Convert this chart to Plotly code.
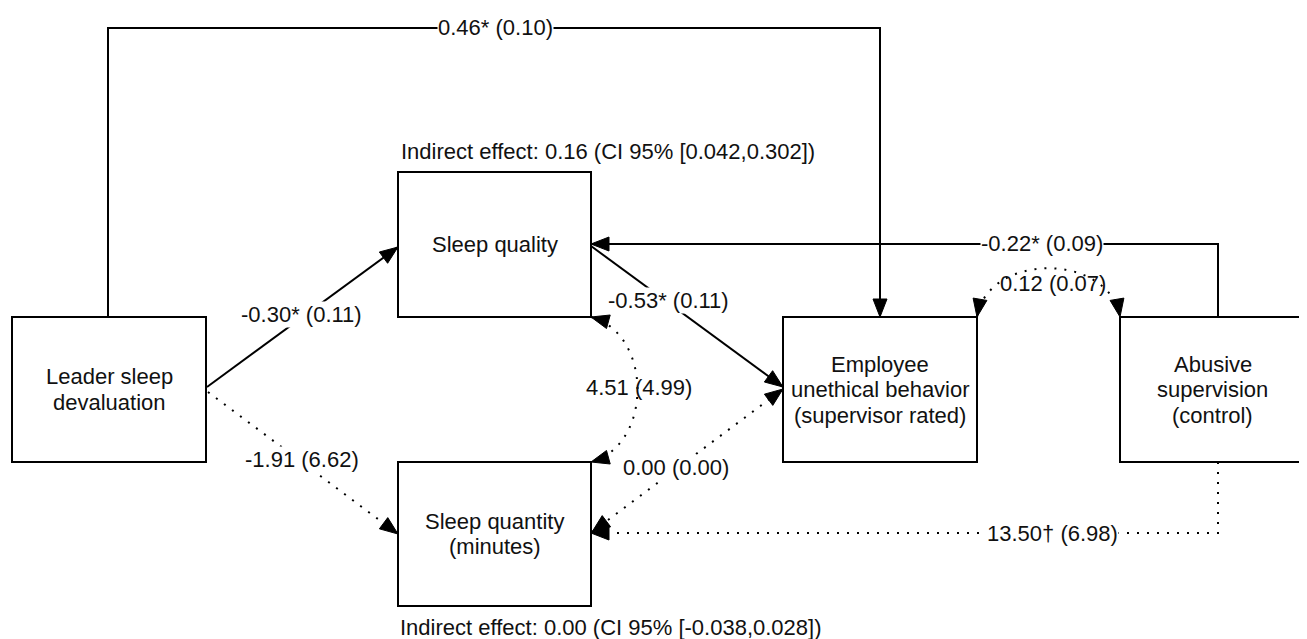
import plotly.graph_objects as go
import math

# ---------------- data ----------------
node_ids = ["leader", "quality", "quantity", "employee", "abusive"]
node_labels = [
    ["Leader sleep", "devaluation"],
    ["Sleep quality"],
    ["Sleep quantity", "(minutes)"],
    ["Employee", "unethical behavior", "(supervisor rated)"],
    ["Abusive", "supervision", "(control)"],
]
path_ids = ["lead_emp", "lead_qual", "lead_quan", "qual_emp", "abu_qual",
            "qual_quan", "quan_emp", "emp_abu", "abu_quan"]
path_estimates = ["0.46*", "-0.30*", "-1.91", "-0.53*", "-0.22*",
                  "4.51", "0.00", "0.12", "13.50\u2020"]
path_se = ["0.10", "0.11", "6.62", "0.11", "0.09", "4.99", "0.00", "0.07", "6.98"]
path_significant = [True, True, False, True, True, False, False, False, False]
indirect_labels = ["Indirect effect: 0.16 (CI 95% [0.042,0.302])",
                   "Indirect effect: 0.00 (CI 95% [-0.038,0.028])"]

# ---------------- layout geometry (page pixels) ----------------
W, H = 1307, 639
PAGE_OFF = 8  # default body margin of the html page
boxes = {
    "leader":   (12, 317, 206, 462),
    "quality":  (398, 172, 591, 317),
    "quantity": (398, 462, 591, 606),
    "employee": (783, 317, 977, 462),
    "abusive":  (1120, 317, 1305, 462),
}
FONT = "Liberation Sans, Arial, sans-serif"
FS = 22
LINE_H = 25.5

geom = {
    "lead_emp":  dict(kind="poly", pts=[(108, 317), (108, 28), (880, 28), (880, 317)], head_end=True, head_start=False, label=(495, 27)),
    "lead_qual": dict(kind="poly", pts=[(207, 387), (398, 247)], head_end=True, head_start=False, label=(301, 314)),
    "lead_quan": dict(kind="poly", pts=[(208, 392), (398, 534)], head_end=True, head_start=False, label=(302, 459)),
    "qual_emp":  dict(kind="poly", pts=[(591, 246), (783, 387)], head_end=True, head_start=False, label=(668, 300)),
    "abu_qual":  dict(kind="poly", pts=[(1218, 317), (1218, 244), (591, 244)], head_end=True, head_start=False, label=(1042, 243)),
    "qual_quan": dict(kind="cubic", pts=[(591, 317), (653, 334), (653, 445), (591, 462)], head_end=True, head_start=True, label=(639, 387)),
    "quan_emp":  dict(kind="poly", pts=[(592, 532), (783, 389)], head_end=True, head_start=True, label=(676, 467)),
    "emp_abu":   dict(kind="cubic", pts=[(977, 317), (988, 252), (1109, 252), (1120, 317)], head_end=True, head_start=True, label=(1053, 283)),
    "abu_quan":  dict(kind="poly", pts=[(1218, 462), (1218, 533), (591, 533)], head_end=True, head_start=False, label=(1052, 533)),
}
label_bg = {"qual_quan": False, "emp_abu": False}
indirect_pos = [(608, 151), (611, 627)]

fig = go.Figure()
shapes = []
annotations = []

for nid, lines in zip(node_ids, node_labels):
    x0, y0, x1, y1 = boxes[nid]
    shapes.append(dict(type="rect", x0=x0, y0=y0, x1=x1, y1=y1, xref="x", yref="y",
                       line=dict(color="black", width=2), fillcolor="white", layer="below"))
    cx, cy = (x0 + x1) / 2, (y0 + y1) / 2
    n = len(lines)
    for i, t in enumerate(lines):
        ly = cy + (i - (n - 1) / 2) * LINE_H
        annotations.append(dict(x=cx, y=ly, text=t, showarrow=False, xanchor="center", yanchor="middle",
                                font=dict(family=FONT, size=FS, color="#111")))


def head(tip, back, L=18, hw=7):
    tx, ty = tip
    bx, by = back
    dx, dy = bx - tx, by - ty
    d = math.hypot(dx, dy)
    ux, uy = dx / d, dy / d
    px, py = -uy, ux
    bxx, byy = tx + ux * L, ty + uy * L
    c1 = (bxx + px * hw, byy + py * hw)
    c2 = (bxx - px * hw, byy - py * hw)
    return dict(type="path", xref="x", yref="y",
                path=f"M {tx},{ty} L {c1[0]:.2f},{c1[1]:.2f} L {c2[0]:.2f},{c2[1]:.2f} Z",
                fillcolor="black", line=dict(color="black", width=1), layer="above")


for pid, est, se, sig in zip(path_ids, path_estimates, path_se, path_significant):
    g = geom[pid]
    pts = g["pts"]
    dash = "solid" if sig else "2px,8px"
    if g["kind"] == "poly":
        p = "M " + " L ".join(f"{x},{y}" for x, y in pts)
        end_back = pts[-2]
        start_back = pts[1]
    else:
        (x0, y0), (c1x, c1y), (c2x, c2y), (x1, y1) = pts
        p = f"M {x0},{y0} C {c1x},{c1y} {c2x},{c2y} {x1},{y1}"
        end_back = (c2x, c2y)
        start_back = (c1x, c1y)
    shapes.append(dict(type="path", path=p, xref="x", yref="y",
                       line=dict(color="black", width=2, dash=dash), layer="below"))
    if g["head_end"]:
        shapes.append(head(pts[-1], end_back))
    if g["head_start"]:
        shapes.append(head(pts[0], start_back))
    lx, ly = g["label"]
    bg = label_bg.get(pid, True)
    annotations.append(dict(x=lx, y=ly, text=f"{est} ({se})", showarrow=False,
                            xanchor="center", yanchor="middle",
                            bgcolor="white" if bg else "rgba(0,0,0,0)", borderpad=0,
                            font=dict(family=FONT, size=FS, color="#111")))

for t, (x, y) in zip(indirect_labels, indirect_pos):
    annotations.append(dict(x=x, y=y, text=t, showarrow=False, xanchor="center", yanchor="middle",
                            font=dict(family=FONT, size=FS, color="#111")))

fig.update_layout(
    width=W - PAGE_OFF, height=H - PAGE_OFF, autosize=False,
    margin=dict(l=0, r=0, t=0, b=0),
    paper_bgcolor="white", plot_bgcolor="white",
    xaxis=dict(range=[PAGE_OFF, W], visible=False, fixedrange=True),
    yaxis=dict(range=[H, PAGE_OFF], visible=False, fixedrange=True),
    shapes=shapes, annotations=annotations, showlegend=False,
)
fig.write_html("out.html")
